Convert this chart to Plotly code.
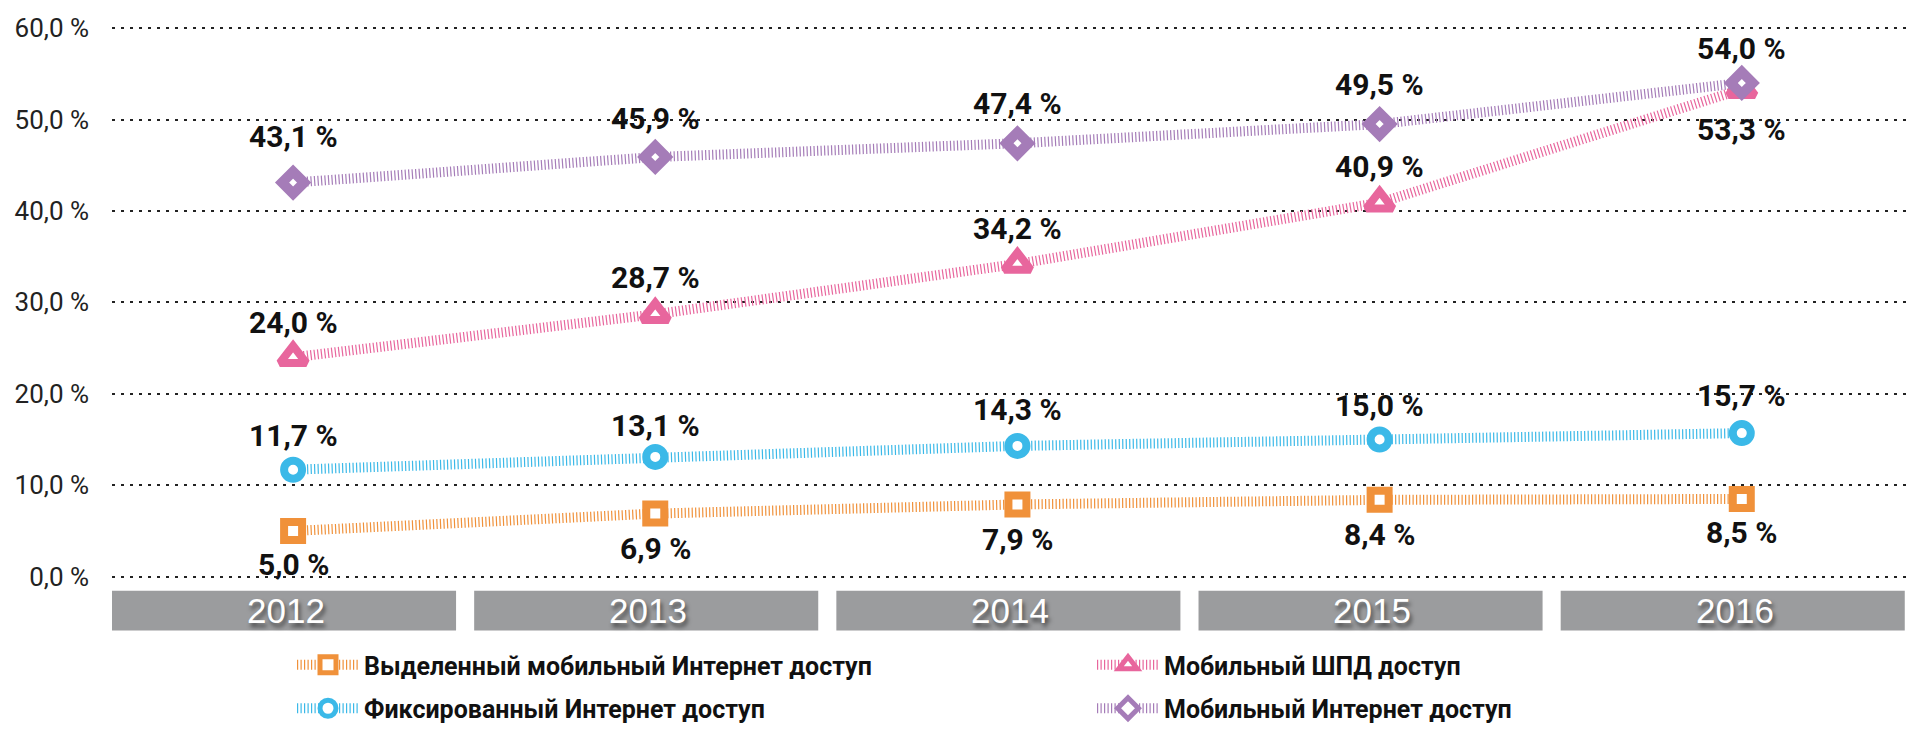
import plotly.graph_objects as go

years = ["2012", "2013", "2014", "2015", "2016"]
y_ticks = [0, 10, 20, 30, 40, 50, 60]
y_tick_labels = ["0,0 %", "10,0 %", "20,0 %", "30,0 %", "40,0 %", "50,0 %", "60,0 %"]

dedicated_mobile = [5.0, 6.9, 7.9, 8.4, 8.5]
fixed_internet = [11.7, 13.1, 14.3, 15.0, 15.7]
mobile_bb = [24.0, 28.7, 34.2, 40.9, 53.3]
mobile_internet = [43.1, 45.9, 47.4, 49.5, 54.0]

names = {
    "dedicated": "Выделенный мобильный Интернет доступ",
    "fixed": "Фиксированный Интернет доступ",
    "mbb": "Мобильный ШПД доступ",
    "mobile": "Мобильный Интернет доступ",
}

FONT = "Roboto, Liberation Sans, sans-serif"

def fmt(v):
    return f"{v:.1f}".replace(".", ",") + " %"

x = list(range(len(years)))

# label offsets (px) per point, styling only
series = [
    # key, values, color, symbol, size, marker line width, label shifts, legend
    ("dedicated", dedicated_mobile, "#f0913a", "square", 18, 8, [-34, -35, -35, -35, -34], "legend"),
    ("fixed", fixed_internet, "#3bb9e8", "circle", 18, 8, [34, 31, 36, 34, 38], "legend"),
    ("mbb", mobile_bb, "#e8669d", "triangle-up", 23, 8, [35, 37, 35, 36, -40], "legend2"),
    ("mobile", mobile_internet, "#a57cb8", "diamond", 17, 10, [46, 38, 40, 40, 34], "legend2"),
]

fig = go.Figure()
annotations = []
for key, vals, color, sym, msize, mlw, shifts, leg in series:
    fig.add_trace(go.Scatter(
        x=x, y=vals, name=names[key], mode="lines+markers",
        line=dict(color=color, width=10, dash="1.2px,2.3px"),
        marker=dict(symbol=sym, size=msize, color="white",
                    line=dict(color=color, width=mlw)),
        cliponaxis=False, legend=leg, legendgroup=key,
    ))
    for xi, v, s in zip(x, vals, shifts):
        annotations.append(dict(
            x=xi, y=v, xref="x", yref="y", text=fmt(v), showarrow=False,
            yshift=s, font=dict(family=FONT, size=30, color="#111111", weight="bold"),
        ))

shapes = []
for i, yr in enumerate(years):
    shapes.append(dict(type="rect", xref="x", yref="y",
                       x0=i - 0.5, x1=i + 0.45, y0=-1.55, y1=-5.9,
                       fillcolor="#9b9c9e", line=dict(width=0), layer="below"))
    annotations.append(dict(
        x=i - 0.02, y=-3.75, xref="x", yref="y", text=yr, showarrow=False,
        font=dict(family="Liberation Sans, Arial, sans-serif", size=35, color="white",
                  shadow="2px 4px 4px rgba(0,0,0,0.55)"),
    ))

legend_style = dict(orientation="v", yanchor="top", xanchor="left", y=0.118,
                    itemwidth=62, tracegroupgap=8, bgcolor="rgba(0,0,0,0)",
                    font=dict(family=FONT, size=25, color="#111111", weight="bold"))

fig.update_layout(
    width=1912, height=731,
    margin=dict(l=112, r=0, t=0, b=0),
    paper_bgcolor="white", plot_bgcolor="white",
    showlegend=True,
    legend=dict(x=(292 - 112) / 1800, **legend_style),
    legend2=dict(x=(1092 - 112) / 1800, **legend_style),
    xaxis=dict(range=[-0.5, 4.47], showgrid=False, zeroline=False,
               showticklabels=False, showline=False, fixedrange=True),
    yaxis=dict(domain=[91 / 731, 1], range=[-6.64, 63.07], tickvals=y_ticks,
               ticktext=y_tick_labels,
               showgrid=True, gridcolor="#222222", griddash="3px,6px", gridwidth=1.5,
               zeroline=False, showline=False, ticks="",
               tickfont=dict(family=FONT, size=26, color="#222222"),
               ticklabelstandoff=22),
    shapes=shapes,
    annotations=annotations,
)

fig.write_html("out.html")
